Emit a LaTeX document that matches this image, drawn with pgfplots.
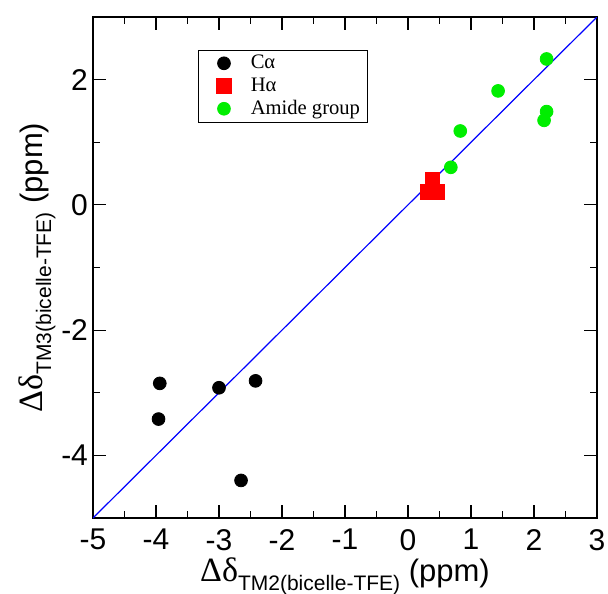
\documentclass[border=0pt]{standalone}
\usepackage{fontspec}
\setmainfont{Liberation Sans}
\newfontfamily\timesf{Liberation Serif}
\usepackage{pgfplots}
\pgfplotsset{compat=1.18}
\definecolor{cgreen}{HTML}{00EE00}
\definecolor{cred}{HTML}{FF0000}
\definecolor{cblue}{HTML}{0000FF}
% subscript part of the axis labels
\newcommand{\subsc}[1]{\raisebox{-4.5pt}{\fontsize{10.5}{12}\selectfont #1}}
\newcommand{\dd}{{\timesf\fontsize{17}{18}\selectfont Δδ}}
\pgfplotsset{wideleg/.style={legend image code/.code={%
    \path[draw=none, fill=none] (0cm,0cm) -- (0.8cm,0cm);
    \path plot coordinates {(0.4cm,0cm)};}}}
\begin{document}
\begin{tikzpicture}
\begin{axis}[
    scale only axis,
    width=252pt, height=250.5pt,
    xmin=-5, xmax=3, ymin=-5, ymax=3,
    xtick={-5,-4,...,3}, minor x tick num=1,
    ytick={-4,-2,0,2}, minor y tick num=1,
    tick align=inside,
    major tick length=6.5pt, minor tick length=3.5pt,
    tick style={black, line width=0.6pt},
    axis line style={line width=0.6pt},
    ticklabel style={font=\fontsize{15}{17}\selectfont},
    xticklabel style={yshift=-2pt},
    yticklabel style={xshift=1pt},
    /pgf/number format/assume math mode=true,
    xlabel={\dd\subsc{TM2(bicelle-TFE)} (ppm)},
    ylabel={\dd\subsc{TM3(bicelle-TFE)} (ppm)},
    label style={font=\fontsize{15.5}{17}\selectfont},
    xlabel style={yshift=3pt},
    ylabel style={yshift=-4pt},
    legend style={at={(0.208,0.935)}, anchor=north west, draw=black,
        font=\timesf\fontsize{10.3}{12}\selectfont, row sep=-1pt,
        inner xsep=1.5pt, inner ysep=0.5pt},
    legend cell align=left,
]
\addplot[only marks, wideleg, mark=*, mark size=3.2pt, color=black]
coordinates {(-3.94,-2.85) (-3.96,-3.42) (-3.00,-2.92) (-2.42,-2.81) (-2.65,-4.40)};
\addlegendentry{Cα}
\addplot[only marks, wideleg, mark=square*, mark size=3.6pt, color=cred]
coordinates {(0.39,0.40) (0.31,0.21) (0.47,0.21)};
\addlegendentry{Hα}
\addplot[only marks, wideleg, mark=*, mark size=3.2pt, color=cgreen]
coordinates {(2.20,2.33) (1.43,1.82) (0.83,1.18) (0.68,0.60) (2.20,1.49) (2.16,1.35)};
\addlegendentry{Amide group}
\addplot[cblue, line width=0.6pt, forget plot] coordinates {(-5,-5) (3,3)};
\end{axis}
\pgfresetboundingbox
\path (current axis.south west) ++(-46.5pt,-37.5pt) rectangle ++(304pt,296.5pt);
\end{tikzpicture}
\end{document}
